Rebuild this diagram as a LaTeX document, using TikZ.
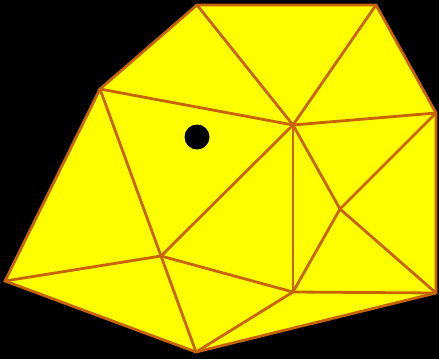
\documentclass[tikz,border=0pt]{standalone}
\definecolor{edgecol}{RGB}{200,100,0}
\definecolor{facecol}{RGB}{255,255,0}
\begin{document}
\begin{tikzpicture}[x=1pt,y=-1pt,
  edge/.style={draw=edgecol,line width=2.8pt,line join=round,line cap=round},
  face/.style={fill=facecol}]
\fill[black] (0,0) rectangle (439,359);
\useasboundingbox (0,0) rectangle (439,359);
\coordinate (A) at (197,5);
\coordinate (B) at (376,5);
\coordinate (C) at (436,113);
\coordinate (D) at (436,293);
\coordinate (E) at (196,352);
\coordinate (F) at (5,281);
\coordinate (G) at (100,89);
\coordinate (H) at (293,125);
\coordinate (I) at (161,256);
\coordinate (J) at (293,292);
\coordinate (K) at (340,209);
\path[face] (A) -- (B) -- (C) -- (D) -- (E) -- (F) -- (G) -- cycle;
\path[edge] (A) -- (B) -- (C) -- (D) -- (E) -- (F) -- (G) -- cycle;
\path[edge] (A) -- (H);
\path[edge] (B) -- (H);
\path[edge] (G) -- (H);
\path[edge] (H) -- (C);
\path[edge] (G) -- (I);
\path[edge] (F) -- (I);
\path[edge] (I) -- (E);
\path[edge] (I) -- (H);
\path[edge] (I) -- (J);
\path[edge] (H) -- (J);
\path[edge] (H) -- (K);
\path[edge] (C) -- (K);
\path[edge] (K) -- (J);
\path[edge] (K) -- (D);
\path[edge] (J) -- (D);
\path[edge] (J) -- (E);
\node[circle,fill=black,minimum size=25pt,inner sep=0pt] (dot) at (197,137) {};
\end{tikzpicture}
\end{document}
